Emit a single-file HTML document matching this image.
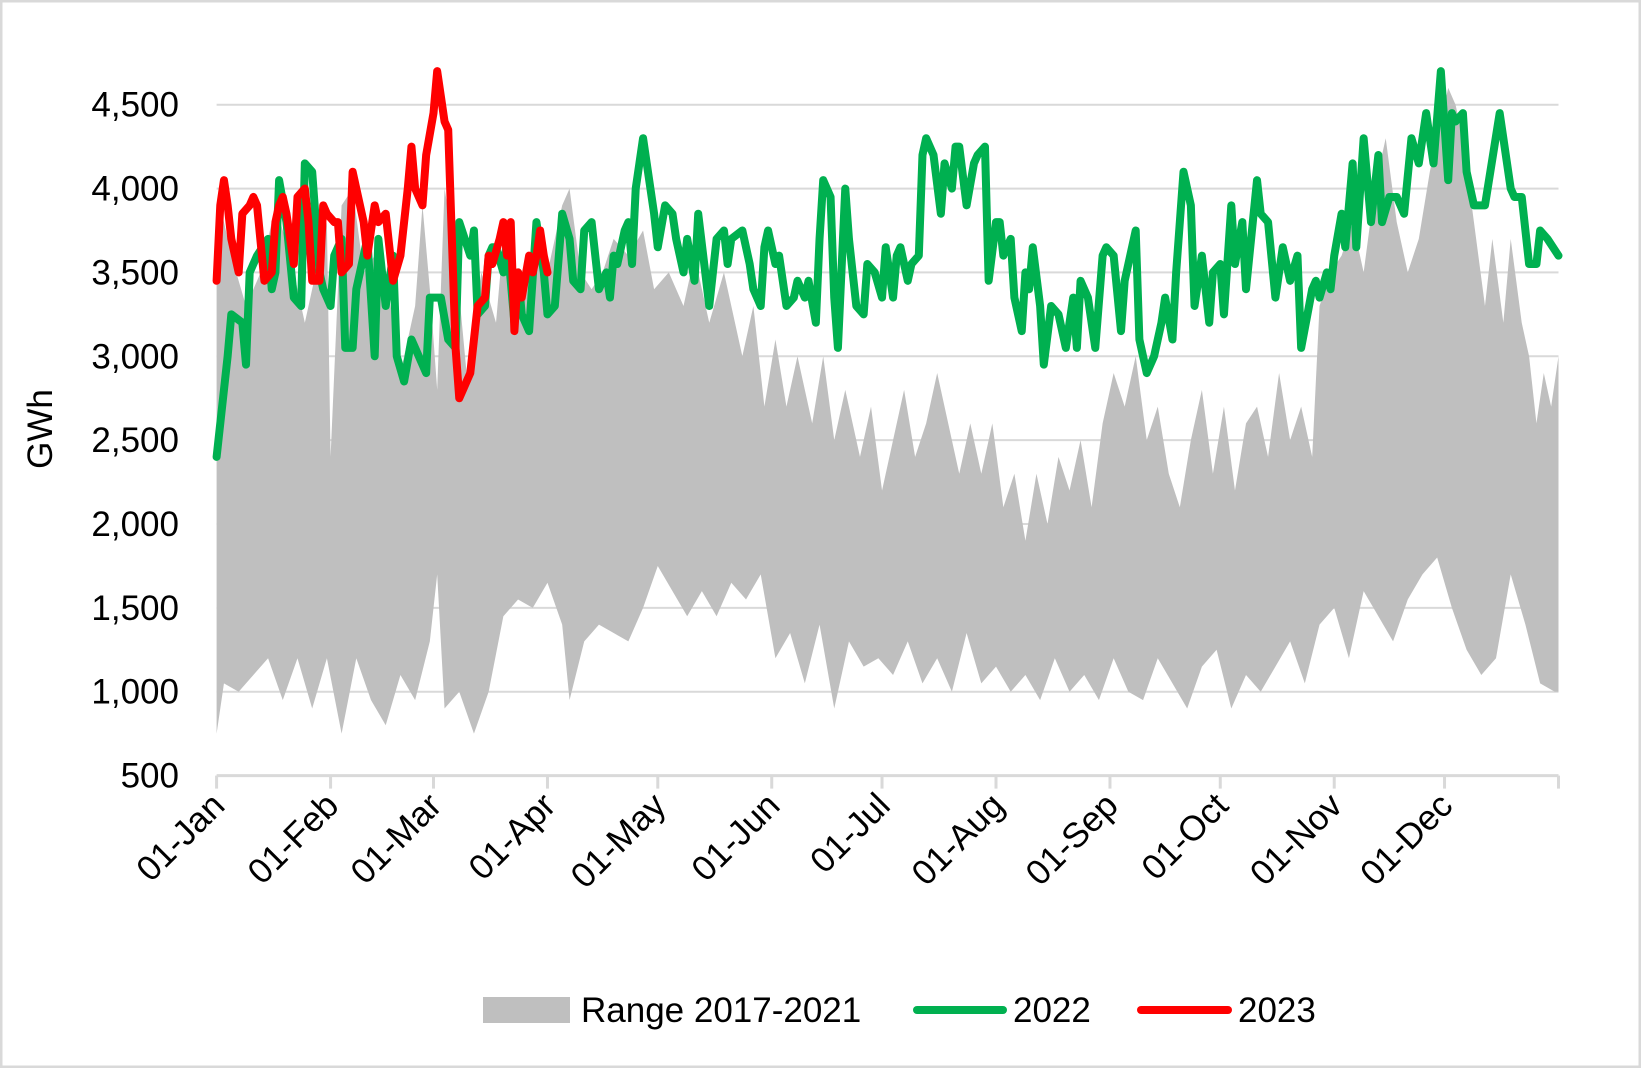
<!DOCTYPE html>
<html><head><meta charset="utf-8"><style>
html,body{margin:0;padding:0;background:#fff;}
svg{display:block;font-family:"Liberation Sans",sans-serif;}
</style></head><body>
<svg id="chart" width="1641" height="1068" viewBox="0 0 1641 1068">
<rect x="1" y="1" width="1639" height="1066" fill="#fff" stroke="#d9d9d9" stroke-width="3"/>
<g id="grid"></g><g id="area"></g><g id="lines"></g><g id="axes"></g>
<text x="52" y="429" transform="rotate(-90 52 429)" text-anchor="middle" font-size="35" fill="#000">GWh</text>
<g>
<rect x="483" y="997" width="87" height="26" fill="#bfbfbf"/>
<text x="581" y="1022" font-size="35">Range 2017-2021</text>
<line x1="917" y1="1010" x2="1003" y2="1010" stroke="#00b050" stroke-width="8" stroke-linecap="round"/>
<text x="1013" y="1022" font-size="35">2022</text>
<line x1="1141" y1="1010" x2="1228" y2="1010" stroke="#ff0000" stroke-width="8" stroke-linecap="round"/>
<text x="1238" y="1022" font-size="35">2023</text>
</g>
</svg>
<script>
const yTicks=[500,1000,1500,2000,2500,3000,3500,4000,4500];
const yTickLabels=["500","1,000","1,500","2,000","2,500","3,000","3,500","4,000","4,500"];
const monthDays=[0,31,59,90,120,151,181,212,243,273,304,334];
const monthLabels=["01-Jan","01-Feb","01-Mar","01-Apr","01-May","01-Jun","01-Jul","01-Aug","01-Sep","01-Oct","01-Nov","01-Dec"];
const g22Days=[0,3,4,7,8,9,11,14,15,16,17,19,21,23,24,26,28,29,31,32,34,35,37,38,40,41,43,44,46,48,49,51,53,55,57,58,61,63,65,66,69,70,71,73,74,75,76,78,79,81,82,83,85,87,89,90,92,94,96,97,99,100,102,104,106,107,108,109,111,112,113,114,116,117,119,120,122,124,125,127,128,130,131,134,136,138,139,140,143,145,146,148,149,150,152,153,155,157,158,160,161,163,164,165,167,168,169,171,172,174,176,177,179,181,182,184,185,186,188,189,191,192,193,195,197,198,200,201,202,204,206,207,209,210,212,213,214,216,217,219,220,221,222,224,225,227,229,231,233,234,235,237,239,241,242,244,246,247,250,251,253,255,257,258,260,261,263,265,266,268,270,271,273,274,276,277,279,280,283,284,286,288,290,292,294,295,298,299,300,302,303,304,306,307,309,310,312,314,316,317,319,321,323,325,327,329,331,333,335,336,337,339,340,342,344,345,349,350,352,353,355,357,359,360,362,365];
const g22Vals=[2400,3000,3250,3200,2950,3500,3600,3700,3400,3500,4050,3800,3350,3300,4150,4100,3500,3400,3300,3600,3700,3050,3050,3400,3600,3700,3000,3700,3300,3600,3000,2850,3100,3000,2900,3350,3350,3100,3050,3800,3600,3750,3250,3300,3600,3650,3650,3500,3700,3200,3500,3250,3150,3800,3500,3250,3300,3850,3700,3450,3400,3750,3800,3400,3500,3350,3600,3550,3750,3800,3550,4000,4300,4150,3850,3650,3900,3850,3700,3500,3700,3450,3850,3300,3700,3750,3550,3700,3750,3550,3400,3300,3650,3750,3550,3600,3300,3350,3450,3350,3450,3200,3700,4050,3950,3350,3050,4000,3700,3300,3250,3550,3500,3350,3650,3350,3600,3650,3450,3550,3600,4200,4300,4200,3850,4150,4000,4250,4250,3900,4150,4200,4250,3450,3800,3800,3600,3700,3350,3150,3500,3400,3650,3300,2950,3300,3250,3050,3350,3050,3450,3350,3050,3600,3650,3600,3150,3450,3750,3100,2900,3000,3200,3350,3100,3500,4100,3900,3300,3600,3200,3500,3550,3250,3900,3550,3800,3400,4050,3850,3800,3350,3650,3450,3600,3050,3400,3450,3350,3500,3400,3600,3850,3650,4150,3650,4300,3800,4200,3800,3950,3950,3850,4300,4150,4450,4150,4700,4050,4450,4400,4450,4100,3900,3900,3900,4450,4300,4000,3950,3950,3550,3550,3750,3700,3600];
const r23Days=[0,1,2,3,4,6,7,9,10,11,13,15,16,17,18,19,21,22,24,25,26,28,29,30,32,33,34,36,37,38,40,41,43,44,46,47,48,50,52,53,54,56,57,59,60,61,62,63,64,65,66,67,69,70,71,73,74,75,77,78,79,80,81,82,83,85,86,87,88,89,90];
const r23Vals=[3450,3900,4050,3900,3700,3500,3850,3900,3950,3900,3450,3500,3800,3900,3950,3850,3550,3950,4000,3800,3450,3450,3900,3850,3800,3800,3500,3550,4100,4000,3800,3600,3900,3800,3850,3650,3450,3600,4000,4250,4000,3900,4200,4450,4700,4550,4400,4350,3700,3050,2750,2800,2900,3100,3300,3350,3600,3550,3700,3800,3600,3800,3150,3500,3350,3600,3500,3600,3750,3600,3500];
const rangeHiDays=[0,1,4,8,12,16,20,24,27,30,31,34,37,40,43,46,50,54,56,58,60,62,65,68,70,72,76,78,82,86,90,94,96,99,102,105,108,112,116,119,123,127,130,134,138,143,146,149,152,155,158,162,165,168,171,175,178,181,184,187,190,193,196,199,202,205,208,211,214,217,220,223,226,229,232,235,238,241,244,247,250,253,256,259,262,265,268,271,274,277,280,283,286,289,292,295,298,300,303,306,309,312,315,318,321,324,327,330,333,335,337,339,342,345,347,350,352,355,357,359,361,363,365];
const rangeHiVals=[3500,3900,3600,3300,3500,3900,3600,3200,3500,3800,2400,3900,4000,3500,3600,3500,2900,3300,3900,3400,2800,4000,3600,2900,3200,3500,3200,3700,3400,3600,3500,3900,4000,3500,3400,3500,3700,3600,3750,3400,3500,3300,3600,3200,3500,3000,3300,2700,3100,2700,3000,2600,3000,2500,2800,2400,2700,2200,2500,2800,2400,2600,2900,2600,2300,2600,2300,2600,2100,2300,1900,2300,2000,2400,2200,2500,2100,2600,2900,2700,3000,2500,2700,2300,2100,2500,2800,2300,2700,2200,2600,2700,2400,2900,2500,2700,2400,3300,3500,3600,3800,3500,4000,4300,3800,3500,3700,4100,4400,4600,4500,4300,3800,3300,3700,3200,3700,3200,3000,2600,2900,2700,3000];
const rangeLoDays=[0,2,6,10,14,18,22,26,30,34,38,42,46,50,54,58,60,62,66,70,74,78,82,86,90,94,96,100,104,108,112,116,120,124,128,132,136,140,144,148,152,156,160,164,168,172,176,180,184,188,192,196,200,204,208,212,216,220,224,228,232,236,240,244,248,252,256,260,264,268,272,276,280,284,288,292,296,300,304,308,312,316,320,324,328,332,336,340,344,348,352,356,360,364,365];
const rangeLoVals=[750,1050,1000,1100,1200,950,1200,900,1200,750,1200,950,800,1100,950,1300,1700,900,1000,750,1000,1450,1550,1500,1650,1400,950,1300,1400,1350,1300,1500,1750,1600,1450,1600,1450,1650,1550,1700,1200,1350,1050,1400,900,1300,1150,1200,1100,1300,1050,1200,1000,1350,1050,1150,1000,1100,950,1200,1000,1100,950,1200,1000,950,1200,1050,900,1150,1250,900,1100,1000,1150,1300,1050,1400,1500,1200,1600,1450,1300,1550,1700,1800,1500,1250,1100,1200,1700,1400,1050,1000,1000];

const NS="http://www.w3.org/2000/svg";
const X0=216.6,X1=1558.5,YT=104.7,YB=775.6;
const xs=d=>X0+(X1-X0)*d/365;
const ys=v=>YB-(YB-YT)*(v-500)/4000;
function mk(tag,parent,attrs){const e=document.createElementNS(NS,tag);for(const k in attrs)e.setAttribute(k,attrs[k]);document.getElementById(parent).appendChild(e);return e;}

yTicks.forEach((t,i)=>{
  if(i>0){const l=mk('line','grid',{x1:X0,x2:X1,y1:ys(t),y2:ys(t),stroke:'#d9d9d9','stroke-width':2});
  
  }
  const tx=mk('text','axes',{x:179,y:ys(t)+12,'text-anchor':'end','font-size':35,fill:'#000'});
  tx.textContent=yTickLabels[i];
  
  
});
let pts=rangeHiDays.map((d,i)=>xs(d)+','+ys(rangeHiVals[i]));
for(let i=rangeLoDays.length-1;i>=0;i--)pts.push(xs(rangeLoDays[i])+','+ys(rangeLoVals[i]));
const ar=mk('polygon','area',{points:pts.join(' '),fill:'#bfbfbf'});


const ax=mk('line','axes',{x1:X0,x2:X1,y1:YB,y2:YB,stroke:'#d9d9d9','stroke-width':3});


monthDays.concat([365]).forEach((d,i)=>{
  const tk=mk('line','axes',{x1:xs(d),x2:xs(d),y1:YB,y2:YB+13,stroke:'#d9d9d9','stroke-width':3});
  
  
  if(i<monthLabels.length){
    const x=xs(d)+10,y=YB+32;
    const tx=mk('text','axes',{x:x,y:y,'text-anchor':'end','font-size':35,fill:'#000',transform:'rotate(-45 '+x+' '+y+')'});
    tx.textContent=monthLabels[i];
    
    
  }
});
const l22=mk('polyline','lines',{points:g22Days.map((d,i)=>xs(d)+','+ys(g22Vals[i])).join(' '),fill:'none',stroke:'#00b050','stroke-width':8,'stroke-linejoin':'round','stroke-linecap':'round'});


const l23=mk('polyline','lines',{points:r23Days.map((d,i)=>xs(d)+','+ys(r23Vals[i])).join(' '),fill:'none',stroke:'#ff0000','stroke-width':8,'stroke-linejoin':'round','stroke-linecap':'round'});


</script>
</body></html>
